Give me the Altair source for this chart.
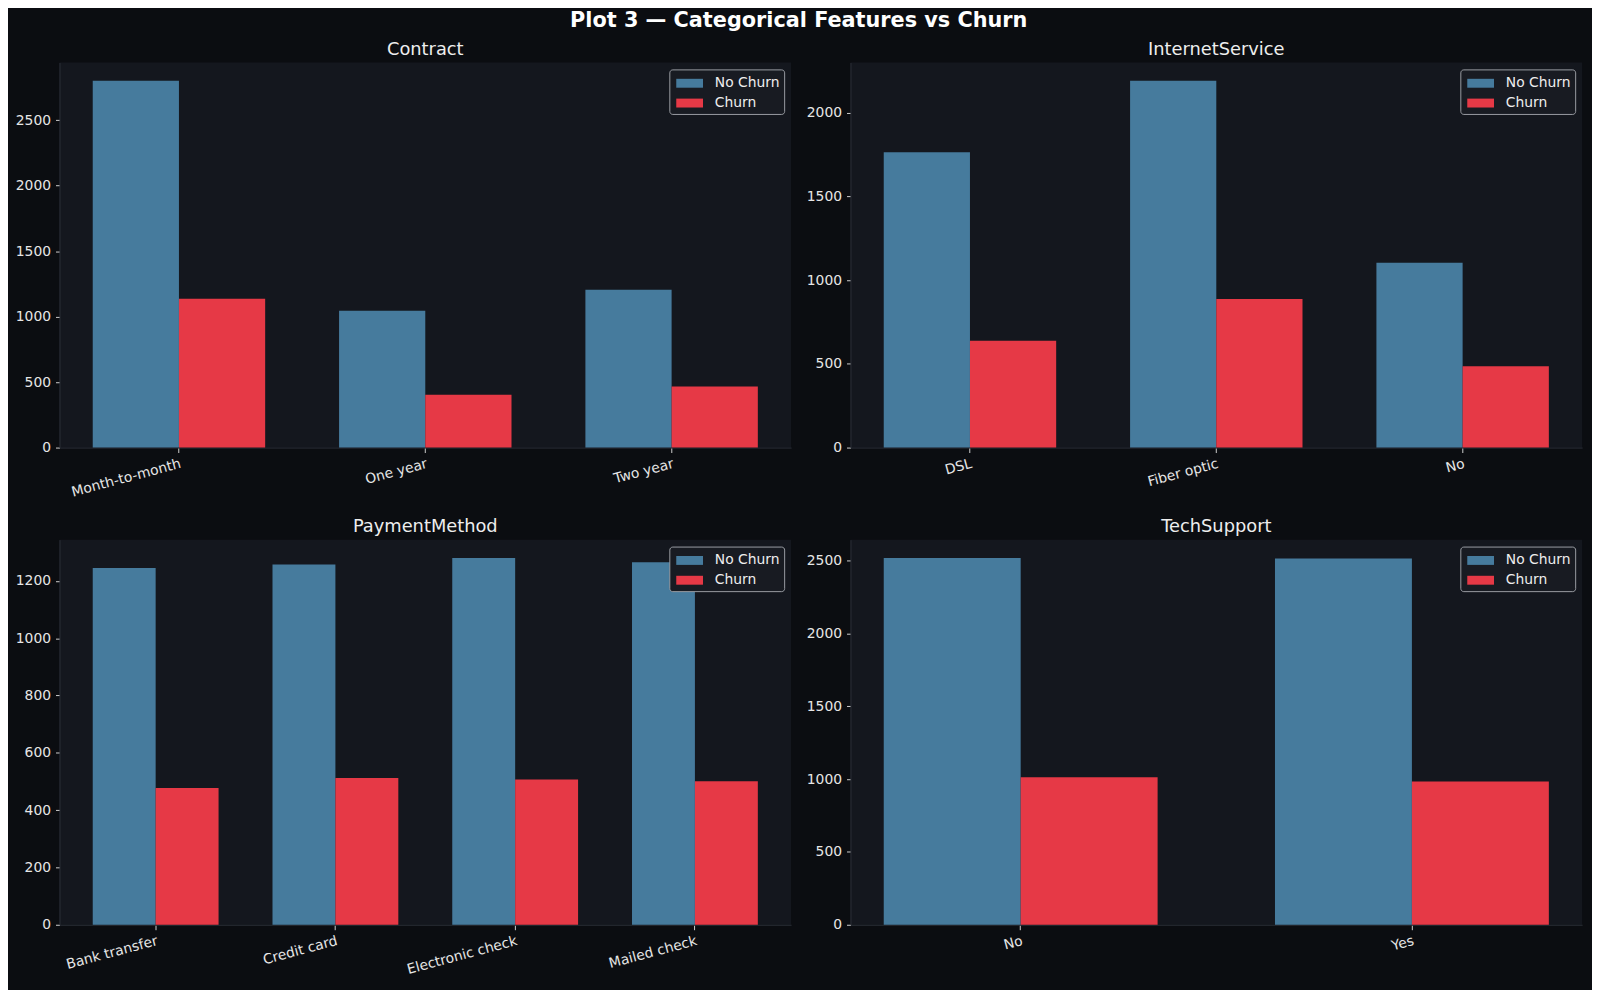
import altair as alt
import pandas as pd

status_order = ["No Churn", "Churn"]
status_colors = ["#467b9d", "#e63946"]

contract_cats = ["Month-to-month", "One year", "Two year"]
contract_no = [2800, 1045, 1205]
contract_yes = [1136, 404, 467]

internet_cats = ["DSL", "Fiber optic", "No"]
internet_no = [1763, 2190, 1104]
internet_yes = [638, 887, 486]

payment_cats = ["Bank transfer", "Credit card", "Electronic check", "Mailed check"]
payment_no = [1245, 1257, 1280, 1265]
payment_yes = [477, 512, 507, 501]

tech_cats = ["No", "Yes"]
tech_no = [2520, 2516]
tech_yes = [1013, 985]

FONT = "DejaVu Sans"
PW, PH = 739, 389


def panel(title, cats, no, yes, step):
    rows = []
    for c, a, b in zip(cats, no, yes):
        rows.append({"category": c, "status": "No Churn", "count": a})
        rows.append({"category": c, "status": "Churn", "count": b})
    df = pd.DataFrame(rows)
    n = len(cats)
    ymax = max(no + yes) * 1.05
    ticks = list(range(0, int(ymax) + 1, step))
    return (
        alt.Chart(df, title=alt.TitleParams(title, fontSize=18, font=FONT, fontWeight="normal",
                                            color="#eeeeee", anchor="middle", offset=4))
        .mark_bar()
        .encode(
            x=alt.X("category:N", sort=cats, title=None,
                    scale=alt.Scale(paddingInner=0.3, paddingOuter=0.05 * (n - 0.3)),
                    axis=alt.Axis(labelAngle=345, labelAlign="right", labelBaseline="top",
                                  labelOverlap=False, labelLimit=400, labelPadding=4,
                                  minExtent=45, maxExtent=45)),
            xOffset=alt.XOffset("status:N", sort=status_order,
                                scale=alt.Scale(paddingInner=0, paddingOuter=0)),
            y=alt.Y("count:Q", title=None,
                    scale=alt.Scale(domain=[0, ymax], nice=False, zero=True),
                    axis=alt.Axis(values=ticks, format="d", labelOverlap=False, labelFlush=False,
                                  labelPadding=5, tickSize=4, minExtent=44, maxExtent=44)),
            color=alt.Color("status:N", sort=status_order,
                            scale=alt.Scale(domain=status_order, range=status_colors),
                            legend=alt.Legend(title=None, orient="top-right", offset=7)),
        )
        .properties(width=PW, height=PH)
    )


p1 = panel("Contract", contract_cats, contract_no, contract_yes, 500)
p2 = panel("InternetService", internet_cats, internet_no, internet_yes, 500)
p3 = panel("PaymentMethod", payment_cats, payment_no, payment_yes, 200)
p4 = panel("TechSupport", tech_cats, tech_no, tech_yes, 500)

chart = (
    alt.concat(p1, p2, p3, p4, columns=2, spacing={"row": 19, "column": 15})
    .resolve_scale(x="independent", y="independent", color="independent", xOffset="independent")
    .resolve_legend(color="independent")
    .properties(
        title=alt.TitleParams("Plot 3 \u2014 Categorical Features vs Churn", fontSize=21, font=FONT,
                              fontWeight="bold", color="#ffffff", anchor="middle", offset=10),
        padding={"left": 7, "top": -3, "right": 10, "bottom": 20},
        background="#0b0d11",
    )
    .configure(font=FONT)
    .configure_view(fill="#14171e", stroke=None)
    .configure_axis(
        grid=False,
        domainColor="#2c3038",
        domainWidth=1,
        tickColor="#cfcfcf",
        tickSize=5,
        tickWidth=1,
        labelColor="#e6e6e6",
        labelFontSize=14,
        labelFont=FONT,
    )
    .configure_legend(
        fillColor="#181b22",
        strokeColor="#9a9da3",
        cornerRadius=3,
        padding=4,
        labelFontSize=14,
        labelFont=FONT,
        labelColor="#eeeeee",
        symbolType="M-0.7,-0.45H2V0.45H-0.7Z",
        symbolSize=400,
        symbolStrokeWidth=0,
        symbolOpacity=1,
        labelOffset=22,
        rowPadding=3,
    )
)

chart.save("out.html", embed_options={"renderer": "svg", "actions": False})
